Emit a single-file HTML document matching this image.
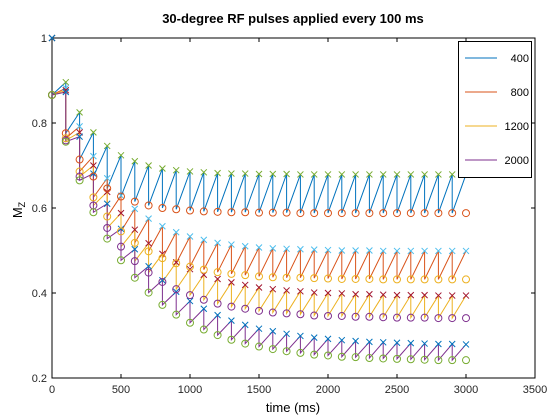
<!DOCTYPE html>
<html><head><meta charset="utf-8"><style>
body{margin:0;background:#fff;}
svg{display:block;font-family:"Liberation Sans",sans-serif;}
</style></head><body>
<svg id="chart" width="560" height="420">
<rect x="0" y="0" width="560" height="420" fill="#fff"/>
<text x="293" y="23" text-anchor="middle" font-size="13" font-weight="bold">30-degree RF pulses applied every 100 ms</text>
<g id="plot"></g>
<text x="293" y="412" text-anchor="middle" font-size="13">time (ms)</text>
<text x="0" y="0" transform="translate(22,210) rotate(-90)" text-anchor="middle" font-size="13">M<tspan font-size="9" dy="3">Z</tspan></text>
</svg>
<script>
const seriesLabels = ["400","800","1200","2000"];
const times = [0,100,200,300,400,500,600,700,800,900,1000,1100,1200,1300,1400,1500,1600,1700,1800,1900,2000,2100,2200,2300,2400,2500,2600,2700,2800,2900,3000];
const pre400 = [1,.896,.825,.778,.746,.724,.710,.700,.693,.689,.686,.684,.682,.681,.681,.680,.680,.680,.679,.679,.679,.679,.679,.679,.679,.679,.679,.679,.679,.679,.679];
const post400 = [.866,.776,.714,.674,.646,.627,.615,.606,.600,.597,.594,.592,.591,.590,.590,.589,.589,.589,.588,.588,.588,.588,.588,.588,.588,.588,.588,.588,.588,.588,.588];
const pre800 = [1,.882,.792,.722,.670,.629,.598,.575,.557,.543,.533,.525,.518,.514,.510,.507,.505,.504,.503,.502,.501,.500,.500,.500,.499,.499,.499,.499,.499,.499,.499];
const post800 = [.866,.764,.686,.625,.580,.545,.518,.498,.482,.470,.462,.455,.449,.445,.442,.439,.437,.436,.436,.435,.434,.433,.433,.433,.432,.432,.432,.432,.432,.432,.432];
const pre1200 = [1,.877,.778,.700,.638,.588,.549,.517,.492,.472,.456,.443,.433,.425,.419,.413,.409,.406,.404,.401,.400,.399,.397,.397,.396,.395,.395,.395,.394,.394,.394];
const post1200 = [.866,.759,.674,.606,.553,.509,.475,.448,.426,.409,.395,.384,.375,.368,.363,.358,.354,.352,.350,.347,.346,.346,.344,.344,.343,.342,.342,.342,.341,.341,.341];
const pre2000 = [1,.873,.768,.681,.610,.551,.503,.463,.430,.403,.381,.363,.348,.335,.325,.316,.310,.304,.299,.295,.292,.289,.287,.285,.284,.283,.282,.281,.280,.280,.279];
const post2000 = [.866,.756,.665,.590,.528,.477,.436,.401,.372,.349,.330,.314,.301,.290,.281,.274,.268,.263,.259,.255,.253,.250,.249,.247,.246,.245,.244,.243,.242,.242,.242];
const xTicks = [0,500,1000,1500,2000,2500,3000,3500];
const yTicks = [0.2,0.4,0.6,0.8,1];

const NS="http://www.w3.org/2000/svg";
const X0=52,X1=535,Y0=378,Y1=38;
function xs(t){return X0+(t-0)/3500*(X1-X0);}
function ys(v){return Y0-(v-0.2)/0.8*(Y0-Y1);}
const g=document.getElementById('plot');
function mk(tag,attrs,parent){const e=document.createElementNS(NS,tag);for(const k in attrs)e.setAttribute(k,attrs[k]);(parent||g).appendChild(e);return e;}

const lineColors=["#0072BD","#D95319","#EDB120","#7E2F8E"];
const xColors=["#77AC30","#4DBEEE","#A2142F","#0072BD"];
const oColors=["#D95319","#EDB120","#7E2F8E","#77AC30"];
const pres=[pre400,pre800,pre1200,pre2000];
const posts=[post400,post800,post1200,post2000];

const box=mk('rect',{x:X0,y:Y1,width:X1-X0,height:Y0-Y1,fill:'none',stroke:'#000','stroke-width':1});


xTicks.forEach(t=>{
  const x=xs(t);
  const tk=mk('path',{d:`M${x},${Y0}v-4M${x},${Y1}v4`,stroke:'#000'});
  
  
  const lb=mk('text',{x:x,y:Y0+15,'text-anchor':'middle','font-size':11,fill:'#262626'});
  lb.textContent=t;
  
  
});
yTicks.forEach(v=>{
  const y=ys(v);
  const tk=mk('path',{d:`M${X0},${y}h4M${X1},${y}h-4`,stroke:'#000'});
  
  
  const lb=mk('text',{x:X0-5,y:y+4,'text-anchor':'end','font-size':11,fill:'#262626'});
  lb.textContent=String(v);
  
  
});

for(let s=0;s<4;s++){
  const pre=pres[s],post=posts[s];
  let d=`M${xs(times[0])},${ys(post[0])}`;
  for(let i=1;i<times.length;i++){
    d+=`L${xs(times[i])},${ys(pre[i])}`;
    if(i<times.length-1) d+=`L${xs(times[i])},${ys(post[i])}`;
  }
  const p=mk('path',{d:d,fill:'none',stroke:lineColors[s],'stroke-width':1});
  
  
}
for(let s=0;s<4;s++){
  const pre=pres[s];
  for(let i=0;i<times.length;i++){
    const x=xs(times[i]),y=ys(pre[i]),r=3;
    const m=mk('path',{d:`M${x-r},${y-r}L${x+r},${y+r}M${x-r},${y+r}L${x+r},${y-r}`,stroke:xColors[s],'stroke-width':1});
    
    
  }
}
for(let s=0;s<4;s++){
  const post=posts[s];
  for(let i=0;i<times.length;i++){
    const m=mk('circle',{cx:xs(times[i]),cy:ys(post[i]),r:3.5,fill:'none',stroke:oColors[s],'stroke-width':1});
    
    
  }
}
const lg=mk('g',{});


const lr=mk('rect',{x:458.5,y:41.5,width:73,height:136,fill:'#fff',stroke:'#000'},lg);


seriesLabels.forEach((l,i)=>{
  const y=58+i*34;
  const ln=mk('line',{x1:465,x2:497,y1:y,y2:y,stroke:lineColors[i],'stroke-width':1},lg);
  
  
  const tx=mk('text',{x:529,y:y+4,'text-anchor':'end','font-size':11,fill:'#000'},lg);
  tx.textContent=l;
  
  
});
</script>
</body></html>
